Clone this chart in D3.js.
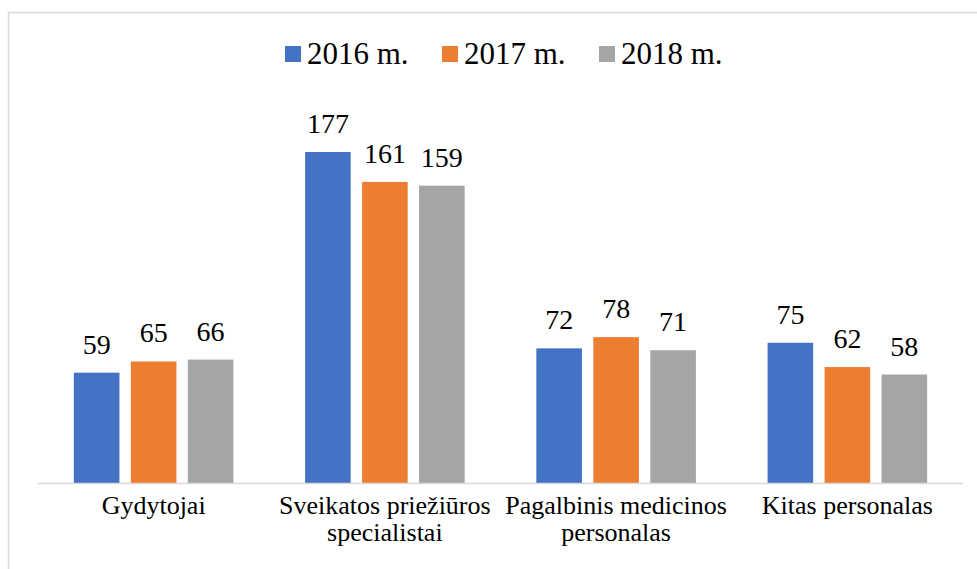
<!DOCTYPE html>
<html>
<head>
<meta charset="utf-8">
<script src="https://cdn.jsdelivr.net/npm/d3@7"></script>
<style>
  body { margin: 0; background: #fff; }
  svg { display: block; }
</style>
</head>
<body>
<svg width="977" height="569"></svg>
<script>
const categories = ["Gydytojai", "Sveikatos priežiūros specialistai", "Pagalbinis medicinos personalas", "Kitas personalas"];
const categoryLines = [["Gydytojai"], ["Sveikatos priežiūros", "specialistai"], ["Pagalbinis medicinos", "personalas"], ["Kitas personalas"]];
const seriesNames = ["2016 m.", "2017 m.", "2018 m."];
const values2016 = [59, 177, 72, 75];
const values2017 = [65, 161, 78, 62];
const values2018 = [66, 159, 71, 58];
const colors = ["#4472C4", "#ED7D31", "#A5A5A5"];

const series = [values2016, values2017, values2018];
const fontFamily = "Times New Roman";

const svg = d3.select("svg");

// chart frame, right and bottom edges fall outside the picture
svg.append("rect")
    .attr("x", 8.5)
    .attr("y", 12.5)
    .attr("width", 1000)
    .attr("height", 600)
    .attr("fill", "none")
    .attr("stroke", "#d9d9d9")
    .attr("stroke-width", 1.5);

const plotLeft = 38, plotRight = 963, baseline = 483, plotTop = 109;

const x0 = d3.scaleBand()
    .domain(categories)
    .range([plotLeft, plotRight])
    .paddingInner(0.31)
    .paddingOuter(0.155);

const x1 = d3.scaleBand()
    .domain(d3.range(series.length))
    .range([0, x0.bandwidth()])
    .paddingInner(0.2)
    .paddingOuter(0);

const y = d3.scaleLinear()
    .domain([0, 200])
    .range([baseline, plotTop]);

const groups = svg.selectAll(".group")
    .data(categories)
    .enter().append("g")
    .attr("class", "group")
    .attr("transform", d => `translate(${x0(d)},0)`);

groups.selectAll("rect")
    .data((d, i) => series.map((s, k) => ({ k: k, v: s[i] })))
    .enter().append("rect")
    .attr("x", d => x1(d.k))
    .attr("y", d => y(d.v))
    .attr("width", x1.bandwidth())
    .attr("height", d => baseline - y(d.v))
    .attr("fill", d => colors[d.k]);

groups.selectAll(".value")
    .data((d, i) => series.map((s, k) => ({ k: k, v: s[i] })))
    .enter().append("text")
    .attr("class", "value")
    .attr("x", d => x1(d.k) + x1.bandwidth() / 2)
    .attr("y", d => y(d.v) - 19)
    .attr("text-anchor", "middle")
    .attr("font-family", fontFamily)
    .attr("font-size", 28)
    .attr("fill", "#000")
    .text(d => d.v);

// axis line
svg.append("line")
    .attr("x1", plotLeft)
    .attr("x2", plotRight)
    .attr("y1", baseline + 0.5)
    .attr("y2", baseline + 0.5)
    .attr("stroke", "#d9d9d9")
    .attr("stroke-width", 1.5);

// category labels
svg.selectAll(".cat")
    .data(categories)
    .enter().append("text")
    .attr("class", "cat")
    .attr("text-anchor", "middle")
    .attr("font-family", fontFamily)
    .attr("font-size", 26)
    .attr("fill", "#000")
    .each(function (d, i) {
        const cx = x0(d) + x0.bandwidth() / 2;
        d3.select(this).selectAll("tspan")
            .data(categoryLines[i])
            .enter().append("tspan")
            .attr("x", cx)
            .attr("y", (l, j) => 514 + j * 27)
            .text(l => l);
    });

// legend
const legendX = d3.scalePoint()
    .domain(seriesNames)
    .range([285, 599]);

const items = svg.selectAll(".legend")
    .data(seriesNames)
    .enter().append("g")
    .attr("class", "legend")
    .attr("transform", d => `translate(${legendX(d)},0)`);

items.append("rect")
    .attr("x", 0)
    .attr("y", 46)
    .attr("width", 16)
    .attr("height", 16)
    .attr("fill", (d, k) => colors[k]);

items.append("text")
    .attr("x", 22)
    .attr("y", 64)
    .attr("font-family", fontFamily)
    .attr("font-size", 31)
    .attr("fill", "#000")
    .text(d => d);
</script>
</body>
</html>
